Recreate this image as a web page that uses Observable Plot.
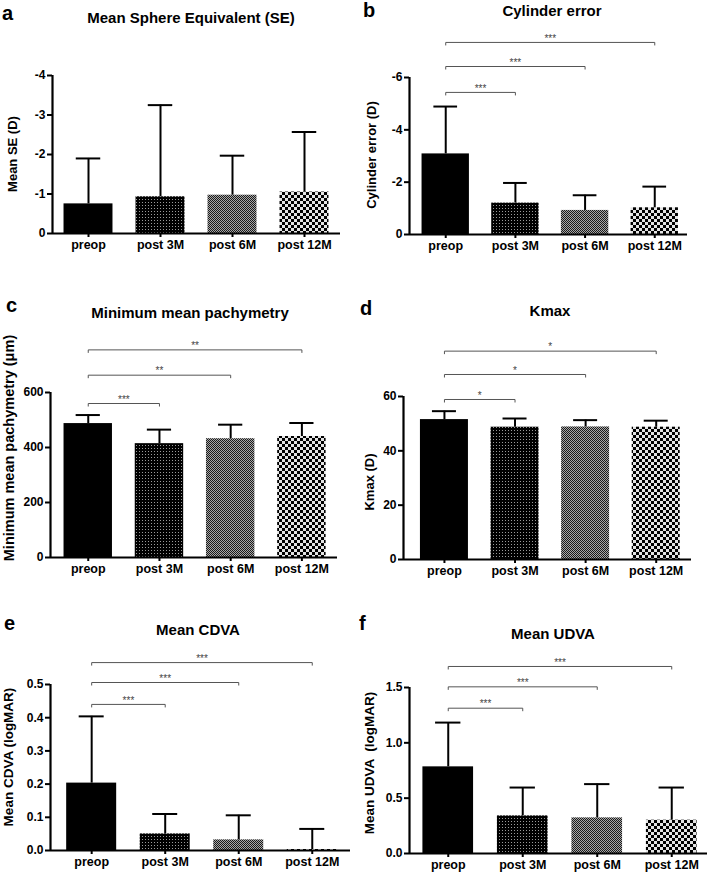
<!DOCTYPE html>
<html><head><meta charset="utf-8">
<script src="https://cdn.jsdelivr.net/npm/d3@7"></script>
<script src="https://cdn.jsdelivr.net/npm/@observablehq/plot@0.6"></script>
<style>
body{margin:0;background:#fff;}
#root{position:relative;width:709px;height:875px;overflow:hidden;font-family:"Liberation Sans",Arial,sans-serif;color:#000;background:#fff;}
.panel{position:absolute;}
.panel svg{overflow:visible;}
.title{position:absolute;font-weight:bold;font-size:15px;line-height:15px;white-space:nowrap;transform:translateX(-50%);}
.letter{position:absolute;font-weight:bold;font-size:20px;line-height:20px;}
.ylab{position:absolute;font-weight:bold;white-space:pre;transform:translate(-50%,-50%) rotate(-90deg);}
</style></head>
<body><div id="root">
<svg width="0" height="0" style="position:absolute;left:0;top:0">
<defs>
<pattern id="pat3M" patternUnits="userSpaceOnUse" width="3" height="3"><rect width="3" height="3" fill="#000"/><rect x="1" y="1" width="1" height="1" fill="#9a9a9a"/></pattern>
<pattern id="pat6M" patternUnits="userSpaceOnUse" width="2" height="2"><rect width="2" height="2" fill="#1a1a1a"/><rect x="1" y="0" width="1" height="1" fill="#a8a8a8"/><rect x="0" y="1" width="1" height="1" fill="#a8a8a8"/></pattern>
<pattern id="pat12M" patternUnits="userSpaceOnUse" width="6" height="6"><rect width="6" height="6" fill="#e4e4e4"/><rect x="0" y="0" width="3" height="3" fill="#000"/><rect x="3" y="3" width="3" height="3" fill="#000"/></pattern>
</defs></svg>
</div>
<script>
// ---------- data ----------
const categories = ["preop", "post 3M", "post 6M", "post 12M"];

// a: Mean Sphere Equivalent
const seMean = [-0.75, -0.93, -0.97, -1.05];
const seSD = [1.15, 2.32, 1.00, 1.52];
const seTicks = [0, -1, -2, -3, -4];

// b: Cylinder error
const cylMean = [-3.08, -1.20, -0.92, -1.02];
const cylSD = [1.81, 0.77, 0.58, 0.81];
const cylTicks = [0, -2, -4, -6];
const cylBracketTo = ["post 3M", "post 6M", "post 12M"];
const cylBracketLevel = [-5.43, -6.42, -7.34];
const cylBracketSig = ["***", "***", "***"];

// c: Minimum mean pachymetry
const pachMean = [487, 414, 432, 440];
const pachSD = [31, 51, 51, 49];
const pachTicks = [0, 200, 400, 600];
const pachBracketTo = ["post 3M", "post 6M", "post 12M"];
const pachBracketLevel = [560, 663, 755];
const pachBracketSig = ["***", "**", "**"];

// d: Kmax
const kmaxMean = [51.5, 48.7, 48.8, 48.7];
const kmaxSD = [3.1, 3.2, 2.5, 2.4];
const kmaxTicks = [0, 20, 40, 60];
const kmaxBracketTo = ["post 3M", "post 6M", "post 12M"];
const kmaxBracketLevel = [58.9, 68.1, 76.7];
const kmaxBracketSig = ["*", "*", "*"];

// e: Mean CDVA
const cdvaMean = [0.203, 0.050, 0.032, 0.003];
const cdvaSD = [0.201, 0.060, 0.074, 0.062];
const cdvaTicks = [0, 0.1, 0.2, 0.3, 0.4, 0.5];
const cdvaBracketTo = ["post 3M", "post 6M", "post 12M"];
const cdvaBracketLevel = [0.44, 0.506, 0.566];
const cdvaBracketSig = ["***", "***", "***"];

// f: Mean UDVA
const udvaMean = [0.783, 0.34, 0.322, 0.301];
const udvaSD = [0.40, 0.256, 0.305, 0.295];
const udvaTicks = [0, 0.5, 1.0, 1.5];
const udvaBracketTo = ["post 3M", "post 6M", "post 12M"];
const udvaBracketLevel = [1.313, 1.506, 1.69];
const udvaBracketSig = ["***", "***", "***"];

// ---------- drawing ----------
const patterns = ["#000", "url(#pat3M)", "url(#pat6M)", "url(#pat12M)"];
const FONT = '"Liberation Sans", Arial, Helvetica, sans-serif';
const root = document.getElementById("root");

function bracketCurve(context) {
  let pts = [];
  return {
    areaStart() {}, areaEnd() {},
    lineStart() { pts = []; },
    point(x, y) { pts.push([x, y]); },
    lineEnd() {
      const [[x1, y1], [x2, y2]] = pts;
      context.moveTo(x1, y1 + 3);
      context.lineTo(x1, y1);
      context.lineTo(x2, y2);
      context.lineTo(x2, y2 + 3);
    }
  };
}

function panel(cfg) {
  const {mean, sd, ticks, fmt, bTo, bLevel, bSig, left, top, width, height, margins, xDomain} = cfg;
  const [mt, mr, mb, ml] = margins;
  const rows = categories.map((c, i) => ({
    cat: c, i, mean: mean[i], tip: mean[i] + Math.sign(mean[i] || 1) * sd[i]
  }));
  const yTop = ticks[ticks.length - 1];
  const brackets = bTo ? bTo.map((t, k) => ({
    from: 0, to: categories.indexOf(t), level: bLevel[k], sig: bSig[k]
  })) : [];
  const chart = Plot.plot({
    width, height,
    marginTop: mt, marginRight: mr, marginBottom: mb, marginLeft: ml,
    x: {domain: xDomain},
    y: {domain: [0, yTop]},
    color: {domain: categories, range: patterns},
    style: {fontFamily: FONT, fontSize: "12px", color: "#000", background: "transparent", overflow: "visible"},
    marks: [
      Plot.rectY(rows, {x1: d => d.i - 0.34, x2: d => d.i + 0.34, y1: 0, y2: "mean", fill: "cat"}),
      Plot.ruleX(rows, {x: "i", y1: "mean", y2: "tip", stroke: "#000", strokeWidth: 2}),
      Plot.ruleY(rows, {y: "tip", x1: d => d.i - 0.17, x2: d => d.i + 0.17, stroke: "#000", strokeWidth: 2}),
      Plot.ruleY([0], {stroke: "#000", strokeWidth: 2.2}),
      Plot.ruleX([xDomain[0]], {y1: 0, y2: yTop, stroke: "#000", strokeWidth: 2.2}),
      Plot.axisY({ticks, tickFormat: fmt, tickSize: 5, tickPadding: 2, strokeWidth: 2, fontWeight: "bold", fontSize: 12, label: null}),
      Plot.axisX({ticks: [0, 1, 2, 3], tickFormat: i => categories[i], tickSize: 4, tickPadding: 3, strokeWidth: 2, fontWeight: "bold", fontSize: 12.5, label: null}),
      Plot.link(brackets, {x1: "from", x2: "to", y1: "level", y2: "level", curve: bracketCurve, stroke: "#555", strokeWidth: 1}),
      Plot.text(brackets, {x: d => (d.from + d.to) / 2, y: "level", text: "sig", dy: -4, fontSize: 10, fill: "#444"})
    ]
  });
  const div = document.createElement("div");
  div.className = "panel";
  div.style.left = left + "px";
  div.style.top = top + "px";
  div.appendChild(chart);
  root.appendChild(div);
}

function label(cls, text, x, y, extra) {
  const d = document.createElement("div");
  d.className = cls;
  d.textContent = text;
  d.style.left = x + "px";
  d.style.top = y + "px";
  if (extra) Object.assign(d.style, extra);
  root.appendChild(d);
}

const fmtInt = d => String(d);
const fmt1 = d3.format(".1f");

panel({mean: seMean, sd: seSD, ticks: seTicks, fmt: fmtInt,
  left: 0, top: 0, width: 354, height: 265, margins: [75, 14, 32, 52], xDomain: [-0.5, 3.5]});
panel({mean: cylMean, sd: cylSD, ticks: cylTicks, fmt: fmtInt, bTo: cylBracketTo, bLevel: cylBracketLevel, bSig: cylBracketSig,
  left: 354, top: 0, width: 355, height: 265, margins: [77, 22, 31, 55], xDomain: [-0.52, 3.47]});
panel({mean: pachMean, sd: pachSD, ticks: pachTicks, fmt: fmtInt, bTo: pachBracketTo, bLevel: pachBracketLevel, bSig: pachBracketSig,
  left: 0, top: 270, width: 354, height: 310, margins: [122, 17, 23, 50], xDomain: [-0.53, 3.5]});
panel({mean: kmaxMean, sd: kmaxSD, ticks: kmaxTicks, fmt: fmtInt, bTo: kmaxBracketTo, bLevel: kmaxBracketLevel, bSig: kmaxBracketSig,
  left: 354, top: 270, width: 355, height: 310, margins: [126, 18, 21, 49], xDomain: [-0.58, 3.5]});
panel({mean: cdvaMean, sd: cdvaSD, ticks: cdvaTicks, fmt: fmt1, bTo: cdvaBracketTo, bLevel: cdvaBracketLevel, bSig: cdvaBracketSig,
  left: 0, top: 580, width: 354, height: 295, margins: [104, 4, 25, 50], xDomain: [-0.56, 3.52]});
panel({mean: udvaMean, sd: udvaSD, ticks: udvaTicks, fmt: fmt1, bTo: udvaBracketTo, bLevel: udvaBracketLevel, bSig: udvaBracketSig,
  left: 354, top: 580, width: 355, height: 295, margins: [107, 2, 22, 55], xDomain: [-0.52, 3.48]});

// titles
label("title", "Mean Sphere Equivalent (SE)", 191, 10);
label("title", "Cylinder error", 552, 3);
label("title", "Minimum mean pachymetry", 190, 305);
label("title", "Kmax", 550, 303);
label("title", "Mean CDVA", 198, 622);
label("title", "Mean UDVA", 553, 626);
// panel letters
label("letter", "a", 2, 3);
label("letter", "b", 363, 0);
label("letter", "c", 6, 295);
label("letter", "d", 360, 298);
label("letter", "e", 4, 613);
label("letter", "f", 359, 613);
// y-axis titles
label("ylab", "Mean SE (D)", 12, 154, {fontSize: "13px"});
label("ylab", "Cylinder error (D)", 371, 155, {fontSize: "13px"});
label("ylab", "Minimum mean pachymetry (\u03bcm)", 9, 448, {fontSize: "14.5px"});
label("ylab", "Kmax (D)", 369, 482, {fontSize: "13px"});
label("ylab", "Mean CDVA (logMAR)", 8, 757, {fontSize: "13.5px"});
label("ylab", "Mean UDVA  (logMAR)", 369, 763, {fontSize: "13.5px"});
</script>
</body></html>
